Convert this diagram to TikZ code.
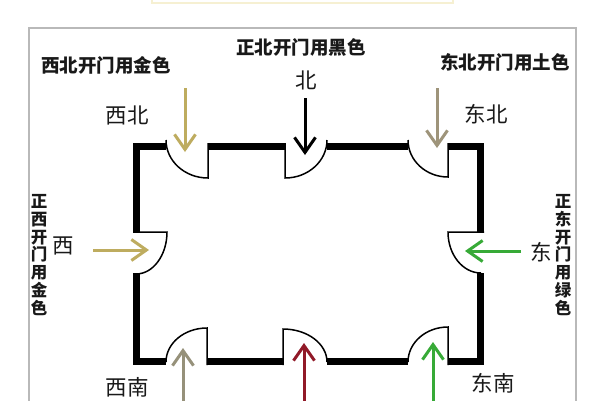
\documentclass[tikz,border=0pt]{standalone}
\usepackage{fontspec}
\setmainfont{Noto Sans CJK SC}
\usetikzlibrary{arrows.meta}
\definecolor{jinse}{RGB}{190,172,95}
\definecolor{tuse}{RGB}{158,148,122}
\definecolor{nanse}{RGB}{150,145,122}
\definecolor{hongse}{RGB}{145,25,40}
\definecolor{lvse}{RGB}{55,170,55}
\definecolor{kuang}{RGB}{185,185,185}
\definecolor{dingbu}{RGB}{246,240,210}
\tikzset{
	wall/.style={line width=7pt, line join=miter},
	doorline/.style={line width=1.5pt},
	fangxiang/.style={line width=3pt, -{Straight Barb[length=15pt,width=21pt,line width=3pt]}},
	biaoti/.style={font=\fontsize{18.5}{18.5}\selectfont\bfseries, text=black!90},
	fangwei/.style={font=\fontsize{21.5}{21.5}\selectfont, text=black!90},
	shuwen/.style={font=\fontsize{16.5}{17.7}\selectfont\bfseries, align=center, text=black!90, inner sep=0pt},
}

\begin{document}
\begin{tikzpicture}[x=1pt, y=-1pt]
			%%%%% START %%%%%
			\useasboundingbox (0, 0) rectangle (600, 400);
			\clip (0, 0) rectangle (600, 400);
			\fill[white] (0, 0) rectangle (600, 400);
			
			\draw[line width=1.5pt, color=dingbu] (152, -10) -- (152, 3) -- (453, 3) -- (453, -10);
			\draw[line width=1.2pt, color=kuang] (29, 420) -- (29, 28) -- (576, 28) -- (576, 420);
			
			% walls
			\draw[wall] (166, 146.5) -- (136.5, 146.5) -- (136.5, 232);
			\draw[wall] (208, 146.5) -- (285, 146.5);
			\draw[wall] (327, 146.5) -- (408, 146.5);
			\draw[wall] (448, 146.5) -- (480.5, 146.5) -- (480.5, 232);
			\draw[wall] (136.5, 273) -- (136.5, 361.5) -- (166, 361.5);
			\draw[wall] (207, 361.5) -- (283, 361.5);
			\draw[wall] (327, 361.5) -- (408, 361.5);
			\draw[wall] (448, 361.5) -- (480.5, 361.5) -- (480.5, 273);
			
			% doors
			\draw[doorline] (166, 140) arc[start angle=180, end angle=90, x radius=42, y radius=38] -- (208, 143);
			\draw[doorline] (285, 143) -- (285, 178) arc[start angle=90, end angle=0, x radius=42, y radius=38];
			\draw[doorline] (408, 140) arc[start angle=180, end angle=90, x radius=40, y radius=37] -- (448, 143);
			\draw[doorline] (133, 232) -- (167, 232) arc[start angle=0, end angle=90, x radius=31, y radius=42];
			\draw[doorline] (484, 232) -- (448, 232) arc[start angle=180, end angle=90, x radius=33, y radius=41];
			\draw[doorline] (207, 365) -- (207, 328) arc[start angle=270, end angle=180, x radius=41, y radius=34];
			\draw[doorline] (283, 365) -- (283, 329) arc[start angle=270, end angle=360, x radius=44, y radius=33];
			\draw[doorline] (448, 365) -- (448, 327) arc[start angle=270, end angle=180, x radius=40, y radius=35];
			
			% arrows
			\coordinate (xb-a) at (185, 88);   \coordinate (xb-b) at (185, 152);
			\coordinate (zb-a) at (305, 98);   \coordinate (zb-b) at (305, 155);
			\coordinate (db-a) at (437, 88);   \coordinate (db-b) at (437, 148);
			\coordinate (zx-a) at (93, 250);   \coordinate (zx-b) at (149, 250);
			\coordinate (zd-a) at (521, 251);  \coordinate (zd-b) at (465, 251);
			\coordinate (xn-a) at (183, 410);  \coordinate (xn-b) at (183, 348);
			\coordinate (zn-a) at (304, 410);  \coordinate (zn-b) at (304, 343);
			\coordinate (dn-a) at (433, 410);  \coordinate (dn-b) at (433, 342);
			\draw[fangxiang, color=jinse] (xb-a) -- (xb-b);
			\draw[fangxiang, color=black] (zb-a) -- (zb-b);
			\draw[fangxiang, color=tuse] (db-a) -- (db-b);
			\draw[fangxiang, color=jinse] (zx-a) -- (zx-b);
			\draw[fangxiang, color=lvse] (zd-a) -- (zd-b);
			\draw[fangxiang, color=nanse] (xn-a) -- (xn-b);
			\draw[fangxiang, color=hongse] (zn-a) -- (zn-b);
			\draw[fangxiang, color=lvse] (dn-a) -- (dn-b);
			
			% labels
			\node[biaoti] (t-xb) at (106, 65.5) {西北开门用金色};
			\node[biaoti] (t-zb) at (301, 47) {正北开门用黑色};
			\node[biaoti] (t-db) at (505, 62.5) {东北开门用土色};
			\node[shuwen] (t-zx) at (39, 255) {正\\西\\开\\门\\用\\金\\色};
			\node[shuwen] (t-zd) at (563, 255) {正\\东\\开\\门\\用\\绿\\色};
			
			\node[fangwei] (f-xb) at (127, 115) {西北};
			\node[fangwei] (f-zb) at (306, 80) {北};
			\node[fangwei] (f-db) at (486, 114) {东北};
			\node[fangwei] (f-zx) at (63, 246) {西};
			\node[fangwei] (f-zd) at (541, 252) {东};
			\node[fangwei] (f-xn) at (127, 387) {西南};
			\node[fangwei] (f-dn) at (493, 383) {东南};
			
			%%%%% END %%%%%
\end{tikzpicture}
\end{document}
